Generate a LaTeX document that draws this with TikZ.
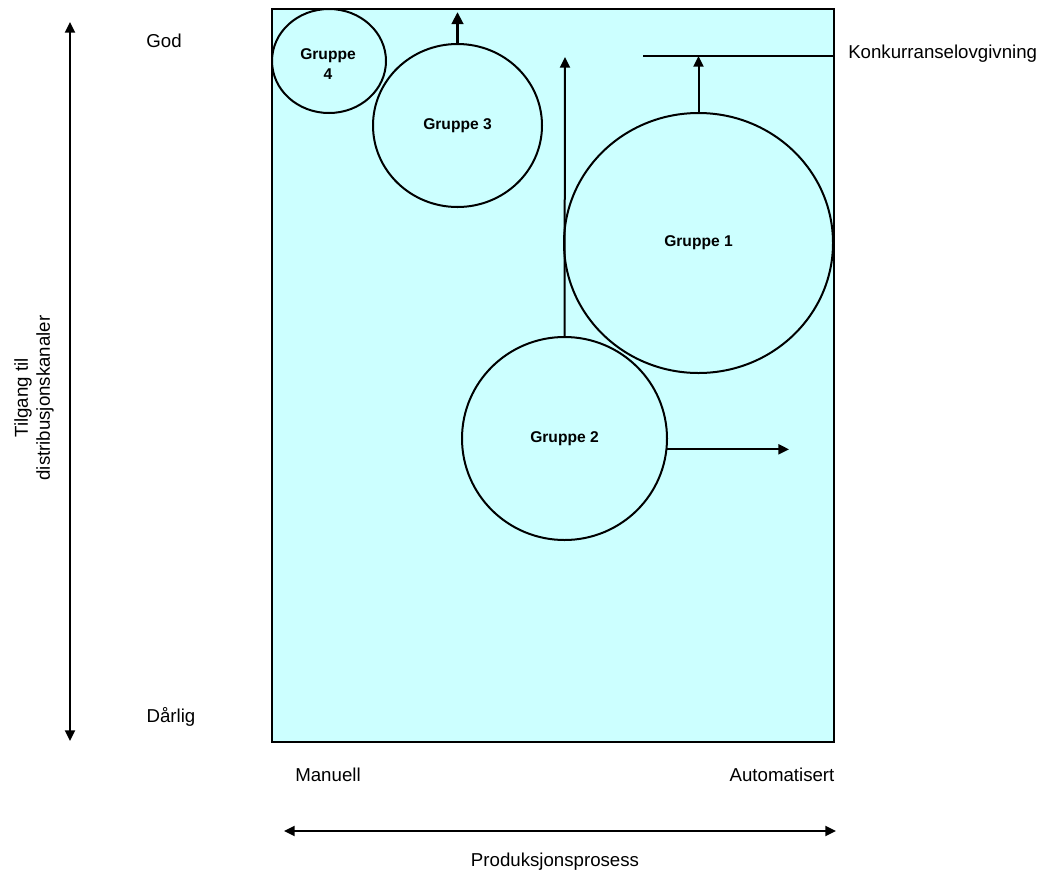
\documentclass[tikz,border=0pt]{standalone}
\usepackage{fontspec}
\setmainfont{Liberation Sans}
\usetikzlibrary{arrows.meta,shapes.geometric}
\definecolor{paleaqua}{HTML}{CCFFFF}
\begin{document}
\begin{tikzpicture}[x=0.75pt,y=-0.75pt,
  axislabel/.style={font=\fontsize{14}{16.5}\selectfont, inner sep=0pt},
  group/.style={ellipse, draw, line width=1.5pt, inner sep=0pt,
    font=\fontsize{11.7}{15}\selectfont\bfseries, align=center},
  conn/.style={line width=1.5pt, -{Triangle[length=8pt,width=7.5pt]}},
  twoway/.style={line width=1.5pt, {Triangle[length=8pt,width=7.5pt]}-{Triangle[length=8pt,width=7.5pt]}}]
\useasboundingbox (0,0) rectangle (1050,879);

% plotting field
\node[draw, line width=1.5pt, fill=paleaqua, minimum width=421.5pt,
      minimum height=549.75pt, inner sep=0pt] (frame) at (553,375.5) {};

% groups
\node[group, minimum width=85.5pt, minimum height=78pt] (g4) at (329,61) {};
\node[font=\fontsize{11.7}{15}\selectfont\bfseries, align=center, inner sep=0pt] (g4text) at (328,64) {Gruppe\\4};
\node[group, minimum width=126.75pt, minimum height=122.25pt] (g3) at (457.5,125.5) {Gruppe 3};
\node[group, minimum width=201.75pt, minimum height=195pt] (g1) at (698.5,243) {Gruppe 1};
\node[group, minimum width=153.75pt, minimum height=152.25pt] (g2) at (564.5,438.5) {Gruppe 2};

% competition law barrier
\coordinate (lawstart) at (643,56);
\draw[line width=1.5pt] (lawstart) -- (lawstart -| frame.east) coordinate (lawend);
\node[axislabel, anchor=west] (law) at (848,54) {Konkurranselovgivning};

% movements
\coordinate (g3tip) at (457.5,12);
\draw[line width=2.25pt, -{Triangle[length=9pt,width=8.5pt]}] (g3.north) -- (g3tip);
\draw[conn] (g1.north) -- (g1.north |- lawstart);
\coordinate (g2tip) at (565,57);
\draw[conn] (g2.north) -- (g2tip);
\coordinate (g2right) at (789,0);
\draw[conn] (g2.-6.4) -- (g2.-6.4 -| g2right);

% vertical axis
\coordinate (vtop) at (70,22);
\coordinate (vbot) at (70,741);
\draw[twoway] (vbot) -- (vtop);
\node[axislabel] (god) at (164,41) {God};
\node[axislabel] (bad) at (171,717) {Dårlig};
\node[axislabel, rotate=90, align=center] (vlabel) at (34,398) {Tilgang til\\distribusjonskanaler};

% horizontal axis
\coordinate (hleft) at (284,831);
\coordinate (hright) at (836,831);
\draw[twoway] (hleft) -- (hright);
\node[axislabel] (manual) at (328,775) {Manuell};
\node[axislabel] (auto) at (782,775) {Automatisert};
\node[axislabel] (hlabel) at (555,862) {Produksjonsprosess};
\end{tikzpicture}
\end{document}
